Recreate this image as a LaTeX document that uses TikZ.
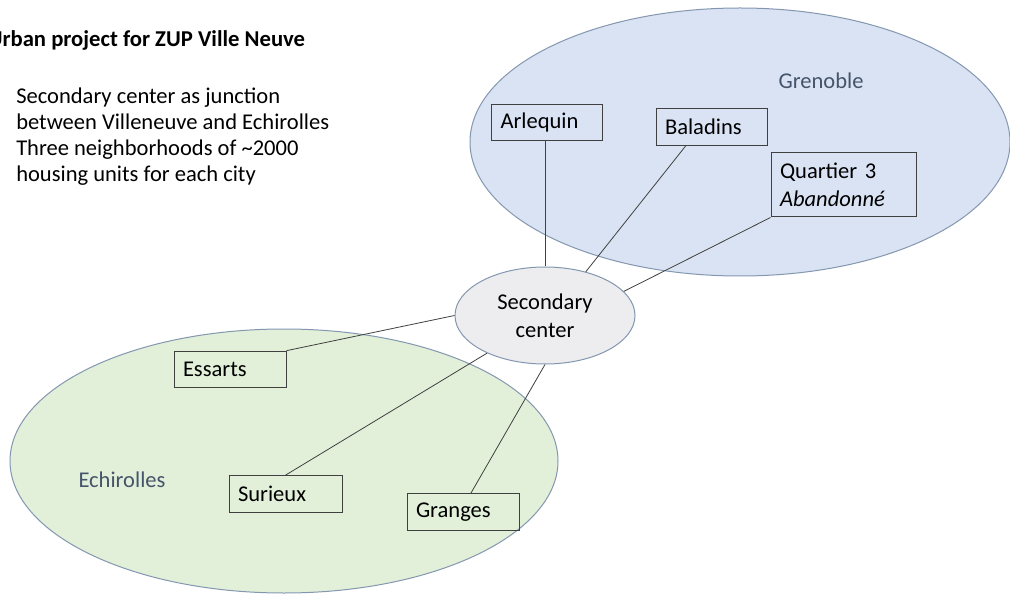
\documentclass[tikz,border=0pt]{standalone}
\usepackage{fontspec}
\setmainfont{Carlito}
\usetikzlibrary{shapes.geometric,calc}

\definecolor{grenoblefill}{HTML}{DAE3F3}
\definecolor{echirollesfill}{HTML}{E2F0D9}
\definecolor{centerfill}{HTML}{EDEDF0}
\definecolor{cityline}{HTML}{8497B0}
\definecolor{citytext}{HTML}{44546A}
\definecolor{boxline}{HTML}{404040}

\begin{document}
\begin{tikzpicture}[x=0.75pt,y=-0.75pt,
  font=\fontsize{16.9}{21}\selectfont,
  city/.style={ellipse,draw=cityline,line width=0.75pt,inner sep=0pt},
  hood/.style={draw=boxline,line width=0.75pt,align=left,text width=#1,
    inner xsep=6.75pt,inner ysep=0pt,minimum height=27.5pt},
  hood/.default=69.75pt,
  link/.style={draw=boxline,line width=0.6pt}]
\useasboundingbox (0,0) rectangle (1010,595);
\fill[white] (0,0) rectangle (1010,595);

\node[city,fill=grenoblefill,minimum width=405pt,minimum height=201pt] (Grenoble) at (740,142) {};
\node[city,fill=echirollesfill,minimum width=411pt,minimum height=198pt] (Echirolles) at (284,461) {};
\node[text=citytext] (GrenobleName) at (821,81) {Grenoble};
\node[text=citytext] (EchirollesName) at (122,480) {Echirolles};

\node[font=\fontsize{17}{21}\selectfont\bfseries,anchor=base west,inner sep=0pt] (title) at (-12.5,46.7) {Urban project for ZUP Ville Neuve};
\node[anchor=base west,align=left,inner sep=0pt,font=\fontsize{16.9}{19.7}\selectfont] (intro) at (16,182)
  {Secondary center as junction\\between Villeneuve and Echirolles\\Three neighborhoods of \textasciitilde2000\\housing units for each city};

\node[city,fill=centerfill,minimum width=135pt,minimum height=72.75pt,align=center] (center) at (545,315.5) {Secondary\\center};

\node[hood] (Arlequin) at (547,122.5) {Arlequin};
\node[hood] (Baladins) at (711.5,127) {Baladins};
\node[hood=95.25pt,minimum height=48pt] (Quartier) at (843.5,185) {Quartier 3\\\textit{Abandonné}};
\node[hood=70.5pt] (Essarts) at (230,369.5) {Essarts};
\node[hood=71.25pt] (Surieux) at (285.5,494) {Surieux};
\node[hood=70.5pt] (Granges) at (463,512) {Granges};

\draw[link] (Arlequin.south -| center.north) -- (center.north);
\draw[link] ($(Baladins.south west)!0.27!(Baladins.south east)$) -- (center.47);
\draw[link] (Quartier.south west) -- (center.17);
\draw[link] (Essarts.north east) -- (center.west);
\draw[link] (Surieux.north) -- (center.213);
\draw[link] ($(Granges.north west)!0.57!(Granges.north east)$) -- (center.south);
\end{tikzpicture}
\end{document}
